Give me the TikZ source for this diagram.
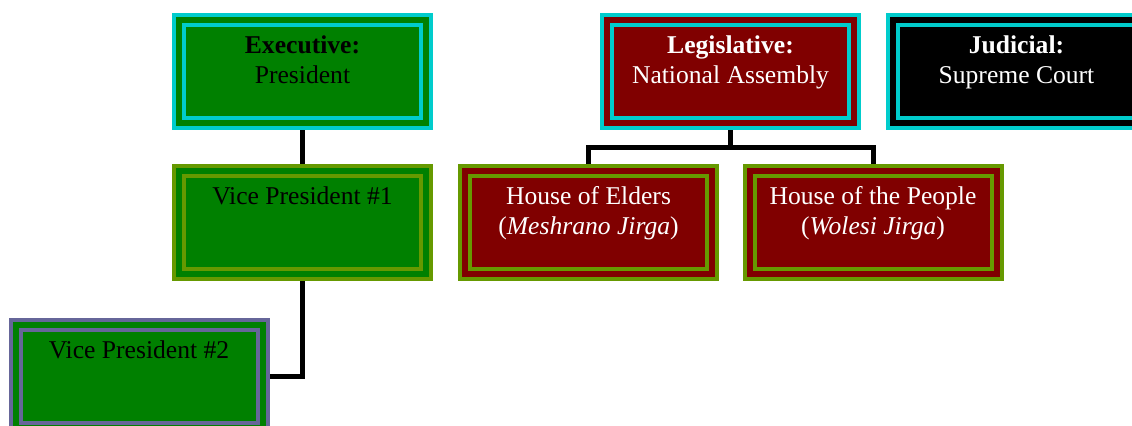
\documentclass[tikz,border=0pt]{standalone}
\usepackage{fontspec}
\setmainfont{Liberation Serif}
\usepackage{xcolor}
\definecolor{rimcyan}{RGB}{0,204,204}
\definecolor{rimolive}{RGB}{102,153,0}
\definecolor{rimslate}{RGB}{102,102,153}
\definecolor{govgreen}{RGB}{0,128,0}
\definecolor{govmaroon}{RGB}{128,0,0}
\newcommand{\boxlines}[1]{\parbox[c][39.5pt][t]{118pt}{\centering\strut#1}}
\tikzset{
	branch/.style = {shape=rectangle, line width=2pt, double distance=3pt, minimum width=123.5pt, minimum height=51.5pt, inner sep=0pt, outer sep=3.5pt, font=\fontsize{12.8}{15}\selectfont},
	exec/.style = {branch, draw=#1, fill=govgreen, double=govgreen, text=black},
	legis/.style = {branch, draw=#1, fill=govmaroon, double=govmaroon, text=white},
	judic/.style = {branch, draw=#1, fill=black, double=black, text=white},
	link/.style = {draw=black, line width=2.5pt}
}

\begin{document}
\begin{tikzpicture}[x=0.5pt, y=-0.5pt]
	\useasboundingbox (0,0) rectangle (1132,425);
	\clip (0,0) rectangle (1132,425);

	\node[exec=rimcyan] (president) at (302.5,71.5) {\boxlines{\textbf{Executive:}\\President}};
	\node[legis=rimcyan] (assembly) at (730.5,71.5) {\boxlines{\textbf{Legislative:}\\National Assembly}};
	\node[judic=rimcyan] (court) at (1016.5,71.5) {\boxlines{\textbf{Judicial:}\\Supreme Court}};

	\node[exec=rimolive] (vp1) at (302.5,222.5) {\boxlines{Vice President \#1}};
	\node[legis=rimolive] (elders) at (588.5,222.5) {\boxlines{House of Elders\\(\textit{Meshrano Jirga})}};
	\node[legis=rimolive] (people) at (873,222.5) {\boxlines{House of the People\\(\textit{Wolesi Jirga})}};

	\node[exec=rimslate] (vp2) at (139,376.5) {\boxlines{Vice President \#2}};

	\coordinate (fork) at (730.5,147);

	\draw[link] (president) -- (vp1);
	\draw[link] (vp1.south) |- (vp2.east);
	\draw[link] (assembly.south) -- (fork);
	\draw[link] (elders.north) |- (fork) -| (people.north);
\end{tikzpicture}
\end{document}
